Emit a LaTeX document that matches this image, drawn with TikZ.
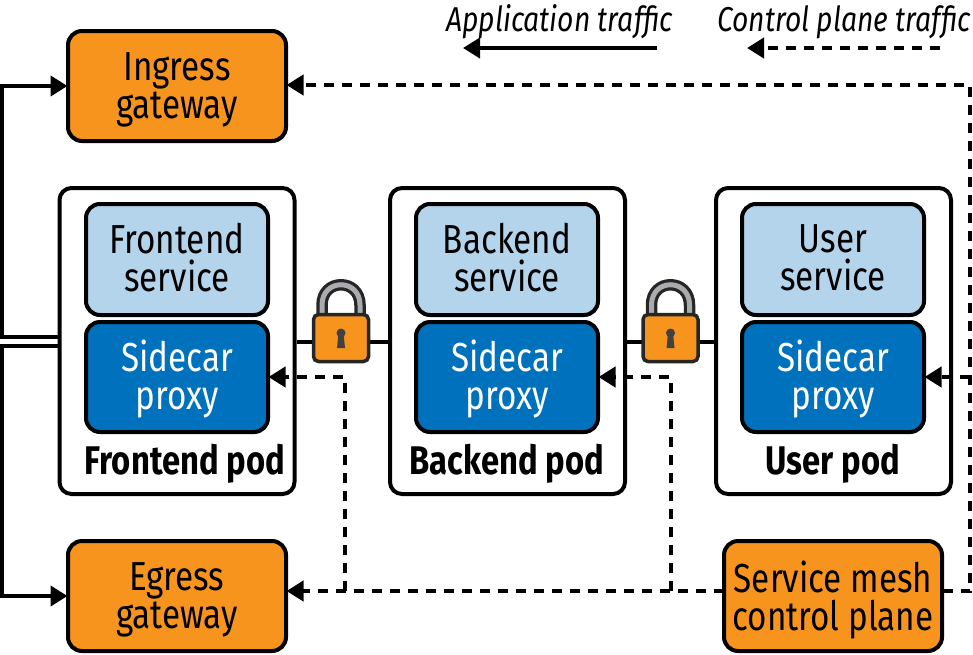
\documentclass[tikz,border=0pt]{standalone}
\usepackage{fontspec}
\setmainfont[FakeStretch=0.82]{Fira Sans}
\usetikzlibrary{arrows.meta,calc}
\definecolor{orangebox}{HTML}{F7941E}
\definecolor{lightbox}{HTML}{B3D4EA}
\definecolor{bluebox}{HTML}{0071BC}
\definecolor{shacklegray}{HTML}{A9ABAE}
\tikzset{
 x=1pt,y=-1pt,
 basebox/.style={draw=black,line width=4pt,rounded corners=14pt,inner sep=0pt,outer sep=0.5pt},
 boxtext/.style={align=center,inner sep=0pt,outer sep=0pt,font=\fontsize{40.5}{38}\selectfont},
 orangetext/.style={boxtext,yshift=-4pt},
 svctext/.style={boxtext,yshift=2pt},
 prxtext/.style={boxtext,text=white,yshift=-2pt},
 orangenode/.style={basebox,fill=orangebox,minimum width=218pt,minimum height=110pt},
 svcnode/.style={basebox,fill=lightbox,minimum width=182pt,minimum height=111pt},
 proxynode/.style={basebox,fill=bluebox,minimum width=182pt,minimum height=110pt},
 podnode/.style={draw=black,line width=4pt,fill=white,rounded corners=12pt,minimum width=235pt,minimum height=306pt,inner sep=0pt},
 podlabel/.style={font=\bfseries\fontsize{40}{38}\selectfont,inner sep=0pt},
 legendtext/.style={font=\itshape\fontsize{34.5}{36}\selectfont,inner sep=0pt,anchor=base west},
 app/.style={line width=4pt,draw=black},
 ctl/.style={line width=4pt,draw=black,dash pattern=on 10pt off 8pt},
 tip/.style={-{Triangle[length=17pt,width=20pt]}},
}
\newcommand{\padlock}[2]{%
 \draw[line width=11.5pt,black!85] (#1-19,#2) -- (#1-19,#2-34) .. controls (#1-19,#2-61) and (#1+19,#2-61) .. (#1+19,#2-34) -- (#1+19,#2);
 \draw[line width=5pt,shacklegray] (#1-19,#2) -- (#1-19,#2-34) .. controls (#1-19,#2-61) and (#1+19,#2-61) .. (#1+19,#2-34) -- (#1+19,#2);
 \draw[line width=3.5pt,draw=black!85,fill=orangebox,rounded corners=5pt] (#1-27.5,#2-24.5) rectangle (#1+27.5,#2+22.5);
 \fill[black!75] (#1,#2-6) circle[radius=4.5pt];
 \fill[black!75] (#1-2.5,#2-6) -- (#1+2.5,#2-6) -- (#1+4,#2+9) -- (#1-4,#2+9) -- cycle;
}
\begin{document}
\begin{tikzpicture}
\useasboundingbox (0,0) rectangle (973,654);
% pods
\node[podnode] (fepod) at (177,341) {};
\node[podnode] (bepod) at (507.5,341) {};
\node[podnode] (uspod) at (833.5,341) {};
% solid links
\draw[app] (fepod.east |- 0,342) coordinate (l1) -- (bepod.west |- 0,342) coordinate (l2);
\draw[app] (bepod.east |- 0,342) coordinate (l3) -- (uspod.west |- 0,342) coordinate (l4);
% inner boxes
\node[svcnode,label={[svctext]center:{Frontend\\service}}] (fesvc) at (177,259.5) {};
\node[svcnode,label={[svctext]center:{Backend\\service}}] (besvc) at (507,259.5) {};
\node[svcnode,label={[svctext]center:{User\\service}}] (ussvc) at (833,259.5) {};
\node[proxynode,label={[prxtext]center:{Sidecar\\proxy}}] (feprx) at (177,377) {};
\node[proxynode,label={[prxtext]center:{Sidecar\\proxy}}] (beprx) at (507,377) {};
\node[proxynode,label={[prxtext]center:{Sidecar\\proxy}}] (usprx) at (833,377) {};
\node[podlabel] (felab) at (185,464) {Frontend pod};
\node[podlabel] (belab) at (507,464) {Backend pod};
\node[podlabel] (uslab) at (833,464) {User pod};
% gateways
\node[orangenode,label={[orangetext]center:{Ingress\\gateway}}] (ingress) at (177,86) {};
\node[orangenode,label={[orangetext]center:{Egress\\gateway}}] (egress) at (177,596) {};
\node[orangenode,label={[orangetext]center:{Service mesh\\control plane}}] (cp) at (833,596) {};
% locks
\padlock{341}{339}
\padlock{670.5}{339}
% application traffic
\coordinate (a1) at (2,337);
\coordinate (a2) at (2,346);
\draw[app,tip,rounded corners=0pt] (fepod.west |- a1) -- (a1) |- (ingress.west);
\draw[app,tip,rounded corners=0pt] (fepod.west |- a2) -- (a2) |- (egress.west);
% control plane
\coordinate (j1) at (345,591);
\coordinate (j2) at (671,591);
\coordinate (c1) at (970,591);
\coordinate (c2) at (970,377);
\draw[ctl,tip] (cp.west |- c1) -- (egress.east |- c1);
\draw[ctl,tip] (j1) -- (345,377) -- (feprx.east);
\draw[ctl,tip] (j2) -- (671,377) -- (beprx.east);
\draw[ctl,tip] (cp.east |- c1) -- (c1) -- (970,85) -- (ingress.east |- 0,85);
\draw[ctl,tip] (c2) -- (usprx.east);
% legend
\node[legendtext] (legA) at (446,31) {Application traffic};
\node[legendtext] (legC) at (717,31) {Control plane traffic};
\coordinate (la1) at (657,48);
\coordinate (la2) at (463,48);
\coordinate (lc1) at (940,48);
\coordinate (lc2) at (747,48);
\draw[app,tip] (la1) -- (la2);
\draw[ctl,tip] (lc1) -- (lc2);
\end{tikzpicture}
\end{document}
